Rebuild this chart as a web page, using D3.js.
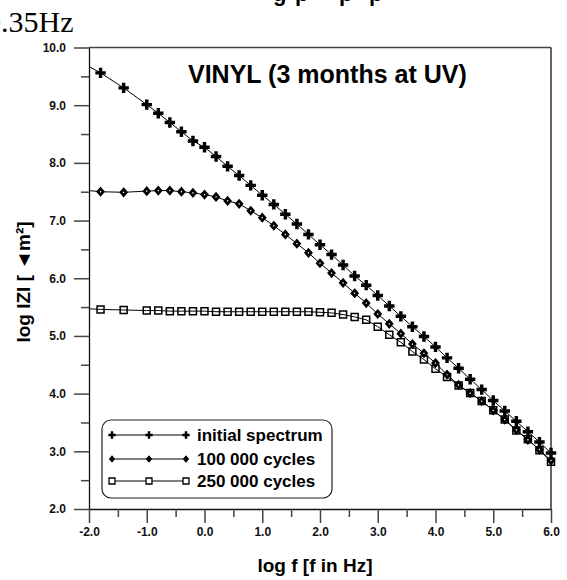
<!DOCTYPE html>
<html><head>
<meta charset="UTF-8">
<title>VINYL (3 months at UV)</title>
<style>
  body { margin: 0; background: #fff; }
  svg { display: block; font-family: "Liberation Sans", Arial, sans-serif; }
</style>
</head>
<body>
<svg id="chart" width="567" height="580"></svg>
<script src="https://d3js.org/d3.v7.min.js"></script>
<script>
// frequencies (log f) of the measured points
const logF = [-1.8, -1.4, -1.0, -0.8, -0.6, -0.4, -0.2, 0.0, 0.2, 0.4, 0.6, 0.8, 1.0, 1.2, 1.4, 1.6, 1.8,
  2.0, 2.2, 2.4, 2.6, 2.8, 3.0, 3.2, 3.4, 3.6, 3.8, 4.0, 4.2, 4.4, 4.6, 4.8, 5.0, 5.2, 5.4, 5.6, 5.8, 6.0];

const initialSpectrum = [9.56, 9.30, 9.01, 8.86, 8.70, 8.54, 8.38, 8.27, 8.11, 7.94, 7.78, 7.61, 7.44, 7.28, 7.11, 6.94, 6.76,
  6.58, 6.41, 6.23, 6.04, 5.88, 5.70, 5.52, 5.34, 5.16, 4.99, 4.81, 4.62, 4.44, 4.25, 4.07, 3.88, 3.70, 3.52, 3.34, 3.16, 2.97];

const cycles100k = [7.50, 7.49, 7.51, 7.52, 7.52, 7.50, 7.48, 7.45, 7.41, 7.34, 7.29, 7.17, 7.05, 6.91, 6.76, 6.60, 6.44,
  6.26, 6.09, 5.92, 5.74, 5.57, 5.38, 5.21, 5.04, 4.86, 4.70, 4.53, 4.33, 4.15, 4.01, 3.87, 3.71, 3.55, 3.37, 3.20, 3.03, 2.84];

const cycles250k = [5.46, 5.45, 5.44, 5.44, 5.43, 5.43, 5.43, 5.43, 5.42, 5.42, 5.42, 5.42, 5.42, 5.42, 5.42, 5.42, 5.42,
  5.41, 5.40, 5.37, 5.33, 5.28, 5.16, 5.02, 4.89, 4.73, 4.59, 4.43, 4.29, 4.14, 4.01, 3.87, 3.71, 3.55, 3.36, 3.21, 3.02, 2.82];

// where the fitted curves start at the left edge (log f = -2.0)
const lineStartF = -2.0;
const lineStart = [9.67, 7.52, 5.47];

const seriesNames = ["initial spectrum", "100 000 cycles", "250 000 cycles"];
const xTicks = [-2, -1, 0, 1, 2, 3, 4, 5, 6];
const xMinor = [-1.5, -0.5, 0.5, 1.5, 2.5, 3.5, 4.5, 5.5];
const yTicks = [2, 3, 4, 5, 6, 7, 8, 9, 10];
const yMinor = [2.5, 3.5, 4.5, 5.5, 6.5, 7.5, 8.5, 9.5];

const svg = d3.select("#chart");
const plotLeft = 89, plotRight = 551, plotTop = 47.5, plotBottom = 509;

const x = d3.scaleLinear().domain([-2, 6]).range([plotLeft, plotRight]);
const y = d3.scaleLinear().domain([2, 10]).range([plotBottom, plotTop]);

// stray text cut off at the top of the picture
svg.append("text")
  .attr("x", -14).attr("y", 32)
  .attr("font-family", "'Liberation Serif', 'Times New Roman', serif")
  .attr("font-size", 30)
  .text("0.35Hz");

const cut = svg.append("text")
  .attr("y", 1)
  .attr("font-size", 22).attr("font-weight", "bold");
[["g", 273], ["p", 295], ["p", 339], ["p", 369]].forEach(([t, px]) => {
  cut.append("tspan").attr("x", px).text(t);
});

// axes
const fmt = d => d.toFixed(1);
const yAxis = svg.append("g").attr("transform", `translate(${plotLeft},0)`)
  .call(d3.axisLeft(y).tickValues(yTicks).tickSize(15).tickSizeOuter(0).tickPadding(8).tickFormat(fmt));
const yAxisMinor = svg.append("g").attr("transform", `translate(${plotLeft},0)`)
  .call(d3.axisLeft(y).tickValues(yMinor).tickSize(8).tickFormat(""));
const xAxis = svg.append("g").attr("transform", `translate(0,${plotBottom})`)
  .call(d3.axisBottom(x).tickValues(xTicks).tickSize(14).tickSizeOuter(0).tickPadding(4).tickFormat(fmt));
const xAxisMinor = svg.append("g").attr("transform", `translate(0,${plotBottom})`)
  .call(d3.axisBottom(x).tickValues(xMinor).tickSize(8).tickFormat(""));

yAxisMinor.select(".domain").remove();
xAxisMinor.select(".domain").remove();
svg.selectAll(".tick line").attr("stroke", "#444").attr("stroke-width", 1.5);
svg.selectAll(".domain").attr("stroke", "#111").attr("stroke-width", 1.3);
svg.selectAll(".tick text")
  .attr("font-family", "'Liberation Sans', Arial, sans-serif")
  .attr("font-size", 12).attr("font-weight", "bold").attr("fill", "#111");

// frame top and right
svg.append("line")
  .attr("x1", x(-2)).attr("x2", x(6)).attr("y1", y(10)).attr("y2", y(10))
  .attr("stroke", "#444").attr("stroke-width", 1.3);
svg.append("line")
  .attr("x1", x(6)).attr("x2", x(6)).attr("y1", y(10)).attr("y2", y(2))
  .attr("stroke", "#111").attr("stroke-width", 1.3);

// axis titles
svg.append("text")
  .attr("x", 315).attr("y", 572)
  .attr("text-anchor", "middle")
  .attr("font-size", 19).attr("font-weight", "bold")
  .text("log f [f in Hz]");

svg.append("text")
  .attr("transform", "translate(30,282) rotate(-90)")
  .attr("text-anchor", "middle")
  .attr("font-size", 19).attr("font-weight", "bold")
  .text("log IZI [ ◄m²]");

svg.append("text")
  .attr("x", 188).attr("y", 83)
  .attr("font-size", 25).attr("font-weight", "bold")
  .text("VINYL (3 months at UV)");

// markers
const diamond = {
  draw(ctx, size) {
    const r = Math.sqrt(size) / 2;
    ctx.moveTo(0, -r * 1.15);
    ctx.lineTo(r, 0);
    ctx.lineTo(0, r * 1.15);
    ctx.lineTo(-r, 0);
    ctx.closePath();
  }
};

const styles = [
  { type: d3.symbolCross, size: 60, legendSize: 30, fill: "#000", stroke: "none", sw: 0, lsw: 0 },
  { type: diamond, size: 28, legendSize: 12, fill: "#fff", stroke: "#000", sw: 2.7, lsw: 2.2 },
  { type: d3.symbolSquare, size: 49, legendSize: 36, fill: "none", stroke: "#000", sw: 1.5, lsw: 1.3 }
];

const series = [initialSpectrum, cycles100k, cycles250k];

const line = d3.line().x(d => x(d[0])).y(d => y(d[1]));

series.forEach((vals, i) => {
  const pts = [[lineStartF, lineStart[i]]].concat(logF.map((f, j) => [f, vals[j]]));
  svg.append("path")
    .attr("d", line(pts))
    .attr("fill", "none")
    .attr("stroke", "#000")
    .attr("stroke-width", 1);
});

series.forEach((vals, i) => {
  const s = styles[i];
  svg.append("g").selectAll("path")
    .data(logF.map((f, j) => [f, vals[j]]))
    .join("path")
    .attr("transform", d => `translate(${x(d[0])},${y(d[1])})`)
    .attr("d", d3.symbol().type(s.type).size(s.size))
    .attr("fill", s.fill)
    .attr("stroke", s.stroke)
    .attr("stroke-width", s.sw);
});

// legend
const legend = svg.append("g");
legend.append("rect")
  .attr("x", 102).attr("y", 420)
  .attr("width", 230).attr("height", 78)
  .attr("rx", 9)
  .attr("fill", "#fff")
  .attr("stroke", "#222").attr("stroke-width", 1.2);

const rowY = [435, 459, 481];
seriesNames.forEach((name, i) => {
  const s = styles[i];
  legend.append("line")
    .attr("x1", 112).attr("x2", 186).attr("y1", rowY[i]).attr("y2", rowY[i])
    .attr("stroke", "#000").attr("stroke-width", 1);
  [112, 149, 186].forEach(px => {
    legend.append("path")
      .attr("transform", `translate(${px},${rowY[i]})`)
      .attr("d", d3.symbol().type(s.type).size(s.legendSize))
      .attr("fill", s.fill === "none" ? "#fff" : s.fill)
      .attr("stroke", s.stroke)
      .attr("stroke-width", s.lsw);
  });
  legend.append("text")
    .attr("x", 197).attr("y", rowY[i]).attr("dy", "0.36em")
    .attr("font-size", 17).attr("font-weight", "bold")
    .text(name);
});
</script>
</body></html>
